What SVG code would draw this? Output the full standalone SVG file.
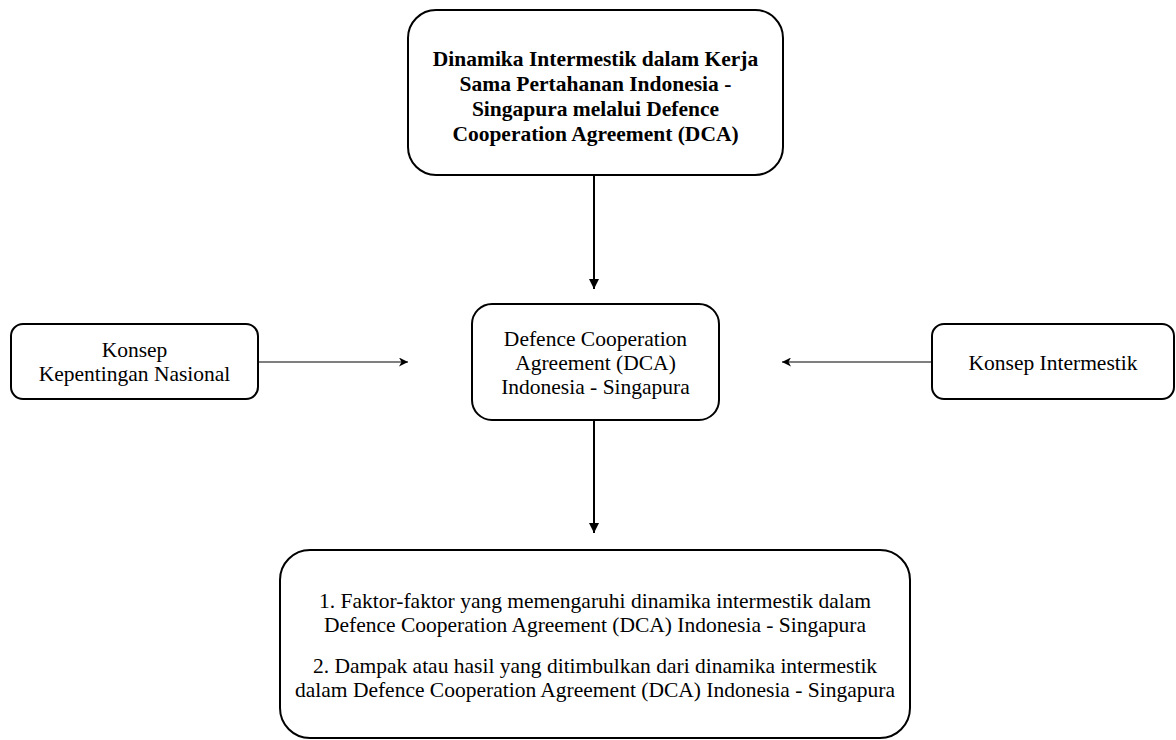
<svg xmlns="http://www.w3.org/2000/svg" width="1176" height="740" viewBox="0 0 1176 740">
<style>
.box{fill:#fff;stroke:#000;stroke-width:2}
.t{font-family:"Liberation Serif","Times New Roman",serif;font-size:21.5px;fill:#000;text-anchor:middle}
.b{font-weight:bold}
.c{stroke:#000;fill:none}
</style>
<defs>
<marker id="tri" markerWidth="10" markerHeight="10" refX="10" refY="5" orient="auto" markerUnits="userSpaceOnUse">
<path d="M0,0 L10,5 L0,10 Z" fill="#000"/>
</marker>
<marker id="stealth" markerWidth="9" markerHeight="9" refX="9" refY="4.5" orient="auto" markerUnits="userSpaceOnUse">
<path d="M0,0 L9,4.5 L0,9 L2.5,4.5 Z" fill="#000"/>
</marker>
</defs>
<rect width="1176" height="740" fill="#fff"/>
<g id="connectors">
<line class="c" x1="594" y1="175" x2="594" y2="289" stroke-width="2" marker-end="url(#tri)"/>
<line class="c" x1="594" y1="421" x2="594" y2="533" stroke-width="2" marker-end="url(#tri)"/>
<line class="c" x1="258" y1="362" x2="408" y2="362" stroke-width="1.2" marker-end="url(#stealth)"/>
<line class="c" x1="932" y1="362" x2="782" y2="362" stroke-width="1.2" marker-end="url(#stealth)"/>
</g>
<g id="node-top">
<rect class="box" x="408" y="10" width="375" height="165" rx="28"/>
<text class="t b" x="595.5" y="65.5">Dinamika Intermestik dalam Kerja</text>
<text class="t b" x="595.5" y="90.5">Sama Pertahanan Indonesia -</text>
<text class="t b" x="595.5" y="115.5">Singapura melalui Defence</text>
<text class="t b" x="595.5" y="140.5">Cooperation Agreement (DCA)</text>
</g>
<g id="node-center">
<rect class="box" x="472" y="304" width="247" height="116" rx="20"/>
<text class="t" x="595.5" y="346">Defence Cooperation</text>
<text class="t" x="595.5" y="370">Agreement (DCA)</text>
<text class="t" x="595.5" y="394">Indonesia - Singapura</text>
</g>
<g id="node-left">
<rect class="box" x="11" y="324" width="247" height="75" rx="12"/>
<text class="t" x="134.5" y="357">Konsep</text>
<text class="t" x="134.5" y="381">Kepentingan Nasional</text>
</g>
<g id="node-right">
<rect class="box" x="932" y="324" width="242" height="75" rx="12"/>
<text class="t" x="1053" y="370">Konsep Intermestik</text>
</g>
<g id="node-bottom">
<rect class="box" x="280" y="550" width="630" height="188" rx="30"/>
<text class="t" x="595" y="608">1. Faktor-faktor yang memengaruhi dinamika intermestik dalam</text>
<text class="t" x="595" y="632">Defence Cooperation Agreement (DCA) Indonesia - Singapura</text>
<text class="t" x="595" y="673">2. Dampak atau hasil yang ditimbulkan dari dinamika intermestik</text>
<text class="t" x="595" y="697">dalam Defence Cooperation Agreement (DCA) Indonesia - Singapura</text>
</g>
</svg>
